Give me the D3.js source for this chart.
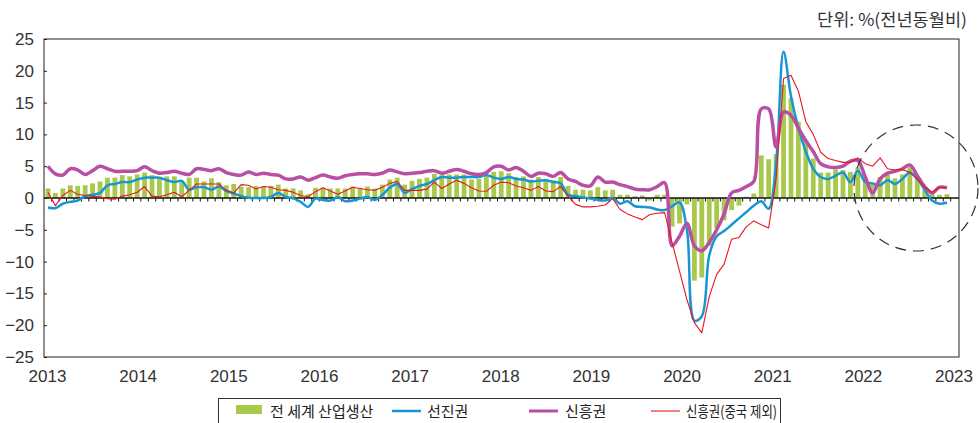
<!DOCTYPE html>
<html>
<head>
<meta charset="utf-8">
<script src="https://cdn.jsdelivr.net/npm/d3@7"></script>
<style>
  body { margin: 0; background: #fff; }
  svg { display: block; }
</style>
</head>
<body>
<svg id="chart" width="980" height="423"></svg>
<script>
// monthly, 2013-01 .. 2023-02
var startYear = 2013
var nMonths = 122
var years = [2013, 2014, 2015, 2016, 2017, 2018, 2019, 2020, 2021, 2022, 2023]
var yTicks = [-25, -20, -15, -10, -5, 0, 5, 10, 15, 20, 25]

// 전 세계 산업생산 (bars)
var world = [
  1.5, 0.8, 1.5, 2.0, 1.9, 2.0, 2.3, 2.6, 3.2, 3.2, 3.6, 3.4,
  3.7, 4.0, 3.6, 3.3, 3.4, 3.4, 2.5, 3.2, 3.2, 2.6, 3.1, 2.5,
  2.0, 2.2, 1.8, 1.7, 1.9, 1.8, 1.9, 2.1, 1.5, 1.5, 1.2, 0.6,
  1.6, 1.6, 1.5, 1.5, 1.5, 1.8, 1.5, 1.8, 1.5, 2.1, 2.9, 3.2,
  2.1, 2.7, 3.0, 3.2, 3.8, 3.6, 3.7, 3.7, 3.7, 2.9, 3.0, 3.6,
  4.1, 4.2, 3.9, 3.3, 3.4, 2.9, 3.3, 3.0, 2.8, 3.3, 1.9, 1.3,
  1.3, 1.2, 1.7, 1.2, 1.3, 0.5, 0.5, 0.3, 0.4, -0.4, 0.5, 0.5,
  -4.5, -4.0, -1.0, -13.0, -12.5, -7.5, -4.8, -3.5, -1.9, -1.2, 0.2, 0.7,
  6.7, 6.1, 6.9, 17.8, 15.7, 12.0, 9.1, 6.2, 4.0, 4.0, 4.5, 4.4,
  4.1, 4.8, 3.1, 2.3, 3.3, 3.7, 3.1, 3.7, 4.9, 3.1, 1.3, 0.8,
  0.5, 0.6
]
// 선진권
var advanced = [
  -1.5, -1.6, -0.9, -0.6, -0.4, 0.3, 0.5, 0.8, 2.0, 2.2, 2.5, 2.5,
  2.9, 3.2, 3.2, 3.2, 2.8, 2.5, 2.7, 1.3, 1.7, 1.7, 1.3, 1.8,
  1.1, 0.7, 0.3, 0.05, 0, 0, 0.15, 0.8, 0.15, -0.05, -0.6, -1.4,
  -0.1, -0.3, -0.4, 0.1, -0.5, -0.4, -0.1, 0.15, -0.3, 0.5, 1.6, 2.2,
  0.8, 1.4, 1.9, 2.2, 2.8, 3.3, 3.2, 3.2, 3.3, 3.3, 3.3, 3.6,
  3.2, 3.0, 3.3, 3.0, 2.9, 2.6, 2.7, 2.8, 2.5, 2.3, 0.5, 0.3,
  0.1, -0.1, -0.3, -0.4, 0, -0.9, -0.5, -1.3, -1.4, -1.5, -1.8, -1.9,
  -1.3, -0.7, -5.0, -19.3, -18.6, -9.0, -6.0, -5.2, -4.2, -3.2, -2.2, -1.2,
  -0.5, -1.7, 5.5, 23.0, 16.0, 11.0, 7.3, 4.6, 3.3, 3.0, 3.5, 4.0,
  2.5, 4.3, 2.5, 2.3, 2.0, 2.8, 2.2, 3.0, 4.0, 3.0, 1.3, -0.4,
  -0.9, -0.7
]
// 신흥권
var emerging = [
  5.0, 3.8, 3.6, 4.6, 4.4, 3.7, 4.3, 5.0, 4.6, 4.2, 4.2, 4.2,
  4.3, 4.9, 4.3, 3.9, 4.0, 4.2, 3.9, 3.7, 4.6, 4.5, 4.3, 4.6,
  4.0, 3.7, 3.6, 4.1, 3.7, 3.9, 3.7, 3.6, 3.0, 3.0, 3.3, 2.8,
  3.2, 3.6, 3.3, 3.1, 3.5, 3.7, 3.8, 3.8, 3.7, 3.9, 4.4, 4.1,
  3.8, 3.9, 4.0, 4.2, 4.3, 3.9, 4.2, 4.5, 4.2, 3.8, 3.7, 4.0,
  4.9, 5.0, 4.4, 4.8, 4.2, 3.4, 3.9, 3.8, 3.4, 4.0, 3.0, 2.6,
  2.0, 1.9, 3.3, 2.5, 2.5, 2.1, 1.8, 1.4, 1.3, 1.3, 1.8, 2.4,
  -7.5, -6.0, -4.0, -7.5, -8.3, -7.0, -5.0, -2.5, 0.8, 1.2, 1.8, 2.6,
  14.0, 14.0, 8.0, 13.5, 13.0, 11.0, 9.0, 7.3, 5.4, 4.9, 4.8, 5.0,
  5.8, 5.9, 3.3, 0.8, 3.0, 3.9, 4.2, 4.6, 5.2, 3.5, 1.8, 0.8,
  1.7, 1.6
]
// 신흥권(중국 제외)
var emergingExChina = [
  0.85, -1.2, 0.4, 1.2, 0.6, 0.4, 0.3, 0.15, -0.1, -0.2, 0.3, 0.5,
  0.9, 1.8, 0.3, 0.2, 0.5, 0.9, 0.2, 1.2, 2.2, 2.2, 2.2, 2.2,
  1.2, 0.8, 2.1, 2.0, 1.4, 1.8, 1.7, 1.3, 1.2, 0.9, 0.4, 0.2,
  1.0, 1.6, 1.1, 0.6, 1.1, 1.7, 1.5, 1.3, 1.2, 1.7, 2.3, 2.6,
  1.2, 1.2, 1.2, 1.4, 2.5, 1.5, 2.2, 2.8, 2.3, 1.6, 1.1, 1.05,
  2.0, 2.5, 2.4, 1.9, 1.6, 1.2, 1.8, 1.1, 1.0, 1.8, 0.3, -1.0,
  -1.4, -1.4, -1.3, -1.1, -0.1, -1.8, -2.5, -3.0, -3.4, -2.6, -2.4, -2.3,
  -7.0, -11.5, -16.0, -19.6, -21.2, -15.5, -12.0, -10.4, -6.5, -6.2, -4.5, -3.6,
  -4.2, -4.7, 3.0, 18.8, 19.3, 16.8, 12.0, 10.0, 7.2, 6.2, 5.9, 5.6,
  5.6, 6.3, 5.4, 5.0, 6.3, 4.6, 4.4, 4.5, 4.0, 3.0, 1.7, 0.9,
  1.7, 1.6
]

var legendItems = [
  { name: "전 세계 산업생산", type: "bar", color: "#a9c94c" },
  { name: "선진권", type: "line", color: "#1697d3", w: 2.5 },
  { name: "신흥권", type: "line", color: "#b84fa3", w: 3.5 },
  { name: "신흥권(중국 제외)", type: "line", color: "#e8161f", w: 1.1 }
]

var svg = d3.select("#chart")
var plotL = 44, plotR = 959, plotT = 39, plotB = 357

var x = d3.scaleLinear().domain([0, nMonths - 1]).range([48, 947])
var xYear = d3.scaleLinear().domain([startYear, 2023]).range([47.5, 954])
var y = d3.scaleLinear().domain([-25, 25]).range([plotB, plotT])
var step = x(1) - x(0)
var barW = 4.8

// unit label (condensed like the original)
svg.append("text")
  .attr("x", 817).attr("y", 26)
  .attr("textLength", 150)
  .attr("lengthAdjust", "spacingAndGlyphs")
  .style("font-family", "'Noto Sans CJK KR', sans-serif")
  .style("font-size", "17px")
  .style("fill", "#333")
  .text("단위: %(전년동월비)")

// bars
svg.append("g").selectAll("rect")
  .data(world)
  .join("rect")
  .attr("x", function (d, i) { return x(i) - barW / 2 })
  .attr("y", function (d) { return y(Math.max(0, d)) })
  .attr("width", barW)
  .attr("height", function (d) { return Math.abs(y(d) - y(0)) })
  .style("fill", legendItems[0].color)

// zero line with monthly ticks
svg.append("line")
  .attr("x1", plotL).attr("x2", plotR)
  .attr("y1", y(0)).attr("y2", y(0))
  .style("stroke", "#111").style("stroke-width", 1.5)
svg.append("g").selectAll("line")
  .data(d3.range(nMonths))
  .join("line")
  .attr("x1", function (i) { return x(i) + step / 2 })
  .attr("x2", function (i) { return x(i) + step / 2 })
  .attr("y1", y(0)).attr("y2", y(0) + 3.5)
  .style("stroke", "#111").style("stroke-width", 1)

// lines
var smooth = d3.line()
  .x(function (d, i) { return x(i) })
  .y(function (d) { return y(d) })
  .curve(d3.curveCatmullRom.alpha(0.5))
var straight = d3.line()
  .x(function (d, i) { return x(i) })
  .y(function (d) { return y(d) })

var series = [
  { data: advanced, item: legendItems[1], gen: smooth },
  { data: emerging, item: legendItems[2], gen: smooth },
  { data: emergingExChina, item: legendItems[3], gen: straight }
]
series.forEach(function (s) {
  svg.append("path")
    .attr("d", s.gen(s.data))
    .style("fill", "none")
    .style("stroke", s.item.color)
    .style("stroke-width", s.item.w)
    .style("stroke-linejoin", "round")
})

// frame
svg.append("rect")
  .attr("x", plotL).attr("y", plotT)
  .attr("width", plotR - plotL).attr("height", plotB - plotT)
  .style("fill", "none").style("stroke", "#222").style("stroke-width", 1)

// y axis
var yAxis = svg.append("g")
  .attr("transform", "translate(" + plotL + ",0)")
  .call(d3.axisLeft(y).tickValues(yTicks).tickSize(-3).tickPadding(10))
yAxis.select(".domain").remove()
yAxis.selectAll("line").style("stroke", "#222")
yAxis.selectAll("text")
  .style("font-family", "'Liberation Sans', Arial, sans-serif")
  .style("font-size", "17px")
  .style("fill", "#333")

// x labels (years)
svg.append("g").selectAll("text")
  .data(years)
  .join("text")
  .attr("x", function (d) { return xYear(d) })
  .attr("y", 382)
  .attr("text-anchor", "middle")
  .style("font-family", "'Liberation Sans', Arial, sans-serif")
  .style("font-size", "17px")
  .style("fill", "#333")
  .text(function (d) { return d })

// dashed circle (2022 highlight)
svg.append("ellipse")
  .attr("cx", 916).attr("cy", 188)
  .attr("rx", 62).attr("ry", 63)
  .style("fill", "none")
  .style("stroke", "#333")
  .style("stroke-width", 1.2)
  .style("stroke-dasharray", "11,7")

// legend
var lg = svg.append("g")
lg.append("rect")
  .attr("x", 218.5).attr("y", 398.5)
  .attr("width", 562).attr("height", 40)
  .style("fill", "#fff").style("stroke", "#333").style("stroke-width", 1)
var lgX = [236, 392, 529, 651]
var lgTX = [270, 427, 565, 686]
legendItems.forEach(function (d, i) {
  if (d.type == "bar") {
    lg.append("rect").attr("x", lgX[i]).attr("y", 405).attr("width", 26).attr("height", 9)
      .style("fill", d.color)
  } else {
    lg.append("line").attr("x1", lgX[i]).attr("x2", lgX[i] + 29)
      .attr("y1", 411).attr("y2", 411)
      .style("stroke", d.color).style("stroke-width", Math.min(d.w, 3))
  }
  var t = lg.append("text")
    .attr("x", lgTX[i]).attr("y", 417)
    .style("font-family", "'Noto Sans CJK KR', sans-serif")
    .style("font-size", "15px")
    .style("fill", "#222")
    .text(d.name)
  // last entry squeezed so it stays inside the box, as in the original
  if (i == legendItems.length - 1) {
    t.attr("textLength", 91).attr("lengthAdjust", "spacingAndGlyphs")
  }
})
</script>
</body>
</html>
